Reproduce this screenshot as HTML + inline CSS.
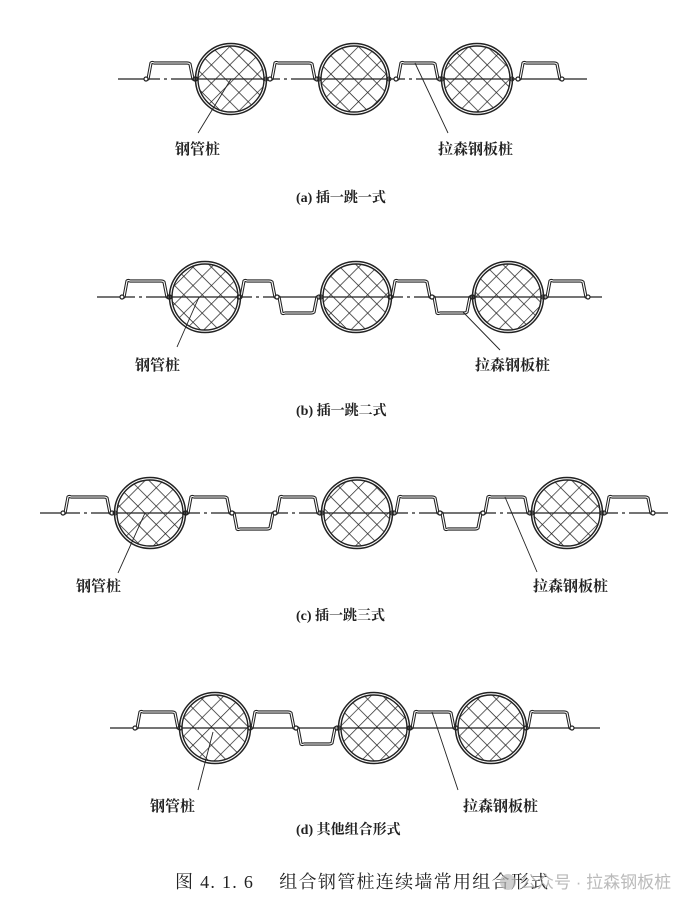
<!DOCTYPE html>
<html><head><meta charset="utf-8">
<style>
html,body{margin:0;padding:0;background:#fff;}
body{width:698px;height:907px;overflow:hidden;}
svg{display:block;}
.lb{font-family:"Liberation Serif","Noto Serif CJK SC",serif;font-size:15px;font-weight:bold;fill:#222;}
.cp{font-family:"Liberation Serif","Noto Serif CJK SC",serif;font-size:14px;font-weight:bold;fill:#222;}
.tt{font-family:"Liberation Serif","Noto Serif CJK SC",serif;font-size:18px;fill:#222;letter-spacing:1.3px;}
.wm{font-family:"Liberation Sans","Noto Sans CJK SC",sans-serif;font-size:17px;fill:#aaa;}
</style></head>
<body>
<svg id="s" width="698" height="907" viewBox="0 0 698 907" xmlns="http://www.w3.org/2000/svg">
<defs>
<pattern id="hx" patternUnits="userSpaceOnUse" width="13" height="13" patternTransform="rotate(45)">
<path d="M0 0H13M0 0V13" stroke="#222" stroke-width="1.4" fill="none"/>
</pattern>
</defs>
<g id="g"></g>
<text class="lb" x="175" y="154">钢管桩</text>
<text class="lb" x="438" y="154">拉森钢板桩</text>
<text class="cp" x="296" y="202">(a) 插一跳一式</text>

<text class="lb" x="135" y="370">钢管桩</text>
<text class="lb" x="475" y="370">拉森钢板桩</text>
<text class="cp" x="296" y="415">(b) 插一跳二式</text>

<text class="lb" x="76" y="591">钢管桩</text>
<text class="lb" x="533" y="591">拉森钢板桩</text>
<text class="cp" x="296" y="620">(c) 插一跳三式</text>

<text class="lb" x="150" y="811">钢管桩</text>
<text class="lb" x="463" y="811">拉森钢板桩</text>
<text class="cp" x="296" y="834">(d) 其他组合形式</text>

<text class="tt" x="175" y="888">图 4. 1. 6　 组合钢管桩连续墙常用组合形式</text>
<circle cx="508" cy="882" r="8" fill="#bbb" opacity="0.7"/>
<text class="wm" x="520" y="888" opacity="0.8">公众号 · 拉森钢板桩</text>
</svg>
<script>
var g=document.getElementById('g'),NS='http://www.w3.org/2000/svg';
function el(t,a){var e=document.createElementNS(NS,t);for(var k in a)e.setAttribute(k,a[k]);g.appendChild(e);return e;}
function axis(x0,x1,y){
 el('line',{x1:x0,y1:y,x2:x1,y2:y,stroke:'#222','stroke-width':1.2});
}
function circ(cx,cy){
 el('circle',{cx:cx,cy:cy,r:33,fill:'url(#hx)'});
 el('circle',{cx:cx,cy:cy,r:33,fill:'none',stroke:'#222','stroke-width':1.4});
 el('circle',{cx:cx,cy:cy,r:35.5,fill:'none',stroke:'#222','stroke-width':1.5});
 el('circle',{cx:cx-35,cy:cy,r:2,fill:'none',stroke:'#222','stroke-width':1});
 el('circle',{cx:cx+35,cy:cy,r:2,fill:'none',stroke:'#222','stroke-width':1});
}
function pile(x0,x1,y,dir){
 var h=dir*-16;
 var d='M'+x0+' '+y+' L'+(x0+2)+' '+y+' L'+(x0+5)+' '+(y+h)+' Q'+(x0+6)+' '+(y+h+ (dir>0?-1:1)*1)+' '+(x0+8)+' '+(y+h)+' L'+(x1-8)+' '+(y+h)+' Q'+(x1-6)+' '+(y+h)+' '+(x1-5)+' '+(y+h+(dir>0?1:-1))+' L'+(x1-2)+' '+y+' L'+x1+' '+y;
 el('path',{d:d,fill:'none',stroke:'#222','stroke-width':3.2,'stroke-linejoin':'round'});
 el('path',{d:d,fill:'none',stroke:'#fff','stroke-width':1.1,'stroke-linejoin':'round'});
 el('circle',{cx:x0,cy:y,r:2,fill:'#fff',stroke:'#222','stroke-width':1.2});
 el('circle',{cx:x1,cy:y,r:2,fill:'#fff',stroke:'#222','stroke-width':1.2});
}
function dash(x0,x1,y){
 for(var x=x0;x<x1;x+=26){el('rect',{x:x,y:y-1,width:4,height:2,fill:'#fff'});el('rect',{x:x+7,y:y-1,width:4,height:2,fill:'#fff'});}
}
function lead(a,b,c,d){el('line',{x1:a,y1:b,x2:c,y2:d,stroke:'#222','stroke-width':0.9});}

// (a)
var y=79;axis(118,587,y);dash(160,185,y);dash(280,305,y);dash(405,430,y);
pile(146,195,y,1);pile(270,317,y,1);pile(396,440,y,1);pile(518,562,y,1);
circ(231,y);circ(354,y);circ(477,y);
lead(231,y,198,133);lead(415,63,448,133);

// (b)
y=297;axis(97,602,y);dash(135,160,y);dash(252,268,y);dash(403,420,y);
pile(122,169,y,1);pile(239,277,y,1);pile(277,319,y,-1);pile(390,432,y,1);pile(432,472,y,-1);pile(545,588,y,1);
circ(205,y);circ(356,y);circ(508,y);
lead(199,y,177,347);lead(463,312,500,350);

// (c)
y=513;axis(40,668,y);dash(80,100,y);dash(200,222,y);dash(288,310,y);dash(408,430,y);dash(496,520,y);dash(618,640,y);
pile(63,112,y,1);pile(186,232,y,1);pile(232,275,y,-1);pile(275,320,y,1);
pile(394,440,y,1);pile(440,483,y,-1);pile(483,530,y,1);pile(604,653,y,1);
circ(150,y);circ(357,y);circ(567,y);
lead(145,y,118,573);lead(505,497,537,572);

// (d)
y=728;axis(110,600,y);
pile(135,180,y,1);pile(250,296,y,1);pile(296,337,y,-1);pile(410,456,y,1);pile(526,572,y,1);
circ(215,y);circ(374,y);circ(491,y);
lead(213,732,198,790);lead(432,712,458,790);
</script>
</body></html>
